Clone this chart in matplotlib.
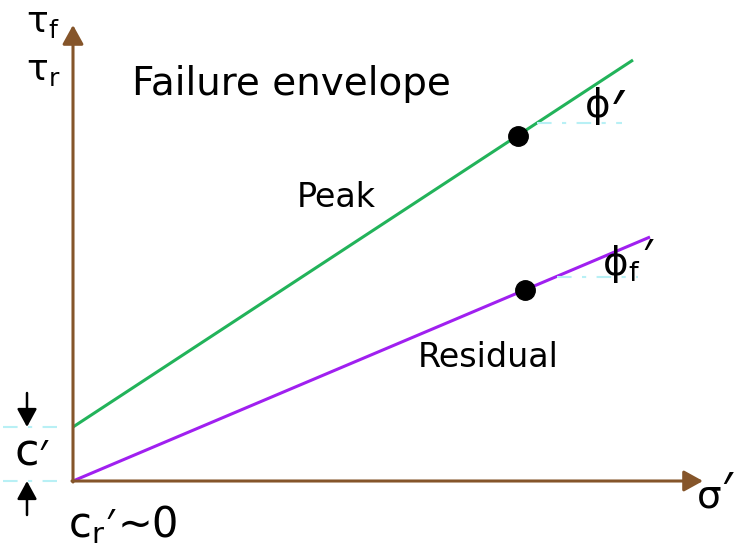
import matplotlib
matplotlib.use('Agg')
import matplotlib.pyplot as plt

# failure envelopes (sigma', tau) - end points of the two lines
peak_x = [0.0, 5.60]
peak_y = [0.54, 4.21]
resid_x = [0.0, 5.77]
resid_y = [0.0, 2.44]

# marked points on the envelopes
point_x = [4.45, 4.52]
point_y = [3.45, 1.91]

brown = '#85552a'
green = '#22b35a'
purple = '#a020f0'
cyan = '#b8f0f5'

fig = plt.figure(figsize=(7.35, 5.49), dpi=100)
ax = fig.add_axes([0, 0, 1, 1])
ax.set_xlim(-0.73, 6.62)
ax.set_ylim(-0.68, 4.81)
ax.axis('off')

# axes with arrow heads
arrow_style = '-|>,head_length=0.58,head_width=0.32'
ax.annotate('', xy=(0, 4.56), xytext=(0, -0.01),
            arrowprops=dict(arrowstyle=arrow_style, color=brown, lw=2.2,
                            mutation_scale=20, shrinkA=0, shrinkB=0))
ax.annotate('', xy=(6.30, 0), xytext=(-0.01, 0),
            arrowprops=dict(arrowstyle=arrow_style, color=brown, lw=2.2,
                            mutation_scale=20, shrinkA=0, shrinkB=0))

# envelopes
ax.plot(peak_x, peak_y, color=green, lw=2.2, solid_capstyle='butt')
ax.plot(resid_x, resid_y, color=purple, lw=2.2, solid_capstyle='butt')
ax.plot(point_x, point_y, 'o', color='black', markersize=14)

# light guide lines for angles and intercept
dash = (0, (7, 5, 2, 5))
ax.plot([4.64, 5.49], [3.58, 3.58], color=cyan, lw=1.5, linestyle=dash)
ax.plot([4.84, 5.65], [2.04, 2.04], color=cyan, lw=1.5, linestyle=dash)
ax.plot([-0.70, -0.16], [peak_y[0], peak_y[0]], color=cyan, lw=1.5, linestyle=dash)
ax.plot([-0.70, -0.16], [0, 0], color=cyan, lw=1.5, linestyle=dash)

# c' arrows
small_arrow = '-|>,head_length=0.55,head_width=0.3'
ax.annotate('', xy=(-0.46, peak_y[0]), xytext=(-0.46, 0.88),
            arrowprops=dict(arrowstyle=small_arrow, color='black', lw=1.8,
                            mutation_scale=20, shrinkA=0, shrinkB=0))
ax.annotate('', xy=(-0.46, 0.0), xytext=(-0.46, -0.34),
            arrowprops=dict(arrowstyle=small_arrow, color='black', lw=1.8,
                            mutation_scale=20, shrinkA=0, shrinkB=0))

# texts
ax.text(0.59, 3.86, 'Failure envelope', fontsize=28, va='baseline')
ax.text(2.24, 2.74, 'Peak', fontsize=24, va='baseline')
ax.text(3.45, 1.14, 'Residual', fontsize=24, va='baseline')
ax.text(-0.47, 4.49, r'$\mathregular{τ_f}$', fontsize=26, va='baseline')
ax.text(-0.47, 4.01, r'$\mathregular{τ_r}$', fontsize=26, va='baseline')
ax.text(-0.58, 0.15, 'c', fontsize=32, va='baseline')
ax.text(-0.05, -0.56, r'$\mathregular{c_r}$', fontsize=30, va='baseline')
ax.text(0.45, -0.56, '∼0', fontsize=30, va='baseline')
ax.text(6.24, -0.27, 'σ', fontsize=28, va='baseline')
ax.text(5.12, 3.64, 'ϕ', fontsize=28, va='baseline')
ax.text(5.29, 2.06, r'$\mathregular{ϕ_f}$', fontsize=28, va='baseline')

# primes, drawn larger than the DejaVu glyph
prime = dict(family='Noto Sans', va='baseline', ha='left')
ax.text(-0.34, 0.14, '′', fontsize=27, **prime)
ax.text(0.33, -0.55, '′', fontsize=27, **prime)
ax.text(6.48, -0.24, '′', fontsize=33, **prime)
ax.text(5.38, 3.52, '′', fontsize=40, **prime)
ax.text(5.69, 2.12, '′', fontsize=30, **prime)

plt.savefig('out.png', dpi=100)
